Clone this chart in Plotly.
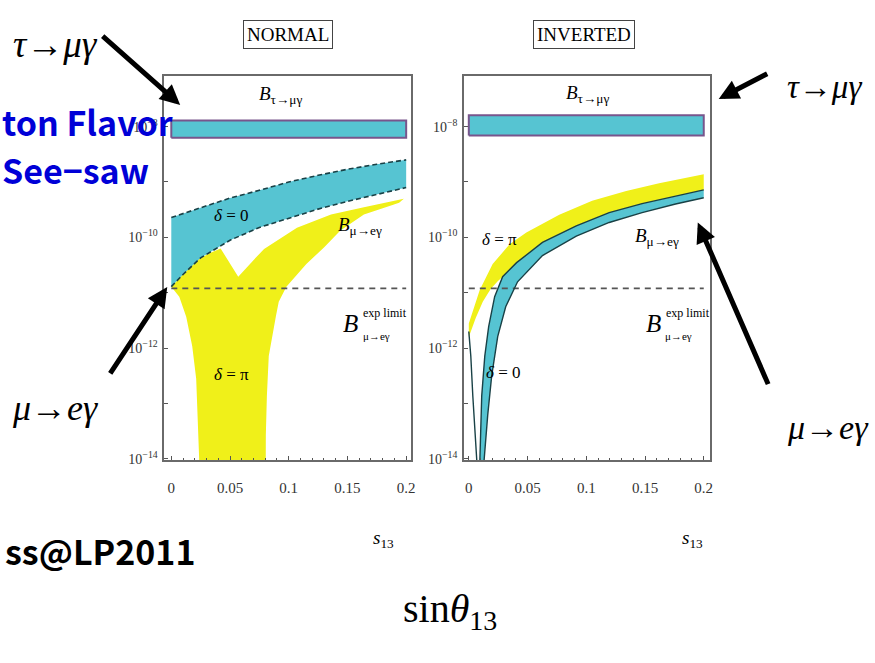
import plotly.graph_objects as go

# ---------------- data ----------------
# NORMAL hierarchy
blueN_s = [0, 0.01, 0.025, 0.05, 0.075, 0.1, 0.125, 0.15, 0.175, 0.2]
blueN_hi = [2.29e-10, 2.69e-10, 3.39e-10, 5.13e-10, 7.08e-10, 1.0e-9, 1.32e-9, 1.70e-9, 2.09e-9, 2.51e-9]
blueN_lo = [1.29e-11, 2.14e-11, 4.27e-11, 8.9e-11, 1.51e-10, 2.24e-10, 3.24e-10, 4.47e-10, 6.03e-10, 7.94e-10]

yelN_s = [0, 0.011, 0.022, 0.032, 0.042, 0.057, 0.068, 0.079, 0.107, 0.136, 0.164, 0.192, 0.198,
          0.194, 0.189, 0.164, 0.144, 0.130, 0.115, 0.098, 0.0915, 0.089, 0.0856, 0.083, 0.0814,
          0.0805, 0.0803, 0.0237, 0.0237, 0.022, 0.0212, 0.0178, 0.0127, 0.0068, 0]
yelN_B = [1.29e-11, 2.3e-11, 3.9e-11, 5.1e-11, 6.3e-11, 1.95e-11, 3.5e-11, 6.2e-11, 1.5e-10, 2.6e-10,
          3.5e-10, 4.6e-10, 5.0e-10,
          4.2e-10, 3.9e-10, 2.6e-10, 1.33e-10, 6.6e-11, 3.3e-11, 1.29e-11, 6.9e-12, 3.7e-12, 1.6e-12,
          7.2e-13, 1.38e-13, 2.7e-14, 1e-15, 1e-15, 1.05e-14, 6.9e-14, 2.8e-13, 1.1e-12, 3.7e-12,
          8.5e-12, 1.29e-11]

tauN = [6.3e-9, 1.29e-8]

# INVERTED hierarchy
yelI_up_s = [0, 0.0093, 0.0203, 0.0347, 0.049, 0.077, 0.105, 0.134, 0.162, 0.2]
yelI_up_B = [2.8e-12, 1.12e-11, 3.3e-11, 7.5e-11, 1.23e-10, 2.57e-10, 4.57e-10, 6.9e-10, 9.5e-10, 1.38e-9]
yelI_lo_s = [0, 0.0059, 0.0119, 0.0186, 0.0246, 0.0288, 0.0407, 0.0627, 0.0915, 0.1195, 0.1475, 0.176, 0.2]
yelI_lo_B = [1.6e-12, 3.5e-12, 6.9e-12, 1.17e-11, 1.62e-11, 1.95e-11, 3.5e-11, 8.1e-11, 1.62e-10,
             2.8e-10, 4.07e-10, 5.6e-10, 7.2e-10]

blueI_up_s = [0.0093, 0.011, 0.0136, 0.0169, 0.022, 0.0288, 0.0407, 0.0627, 0.0915, 0.1195, 0.1475, 0.176, 0.2]
blueI_up_B = [7.8e-15, 1.38e-13, 7.2e-13, 2.45e-12, 8.5e-12, 1.95e-11, 3.5e-11, 8.1e-11, 1.62e-10,
              2.8e-10, 4.07e-10, 5.6e-10, 7.2e-10]
blueI_lo_s = [0.0127, 0.0161, 0.0195, 0.0246, 0.0314, 0.0415, 0.0627, 0.0915, 0.1195, 0.1475, 0.176, 0.2]
blueI_lo_B = [7.8e-15, 6.2e-14, 3.2e-13, 1.62e-12, 5.6e-12, 1.58e-11, 4.7e-11, 1.05e-10, 1.86e-10,
              2.8e-10, 4.0e-10, 5.2e-10]

branchI_s = [0, 0.0017, 0.0034, 0.0051, 0.0068, 0.0076]
branchI_B = [2.0e-12, 7.2e-13, 1.38e-13, 4.1e-14, 9.5e-15, 5e-15]

tauI = [6.9e-9, 1.6e-8]

exp_limit = 1.2e-11
s_range = [0, 0.2]

xtick_vals = [0, 0.05, 0.1, 0.15, 0.2]
xtick_text = ["0", "0.05", "0.1", "0.15", "0.2"]
ytick_vals = [1e-14, 1e-13, 1e-12, 1e-11, 1e-10, 1e-9, 1e-8]
ytick_text = ["10<sup>−14</sup>", "", "10<sup>−12</sup>", "", "10<sup>−10</sup>", "", "10<sup>−8</sup>"]

# ---------------- styles ----------------
W, H = 875, 663
CYAN = "rgb(86,196,210)"
YELLOW = "rgb(240,240,25)"
PURPLE = "rgb(120,85,140)"
EDGE = "rgb(25,65,70)"
SERIF = "Liberation Serif"
GOTHIC = "Noto Sans CJK JP"


def P(px, py):
    return px / W, 1 - py / H


fig = go.Figure()


def add_panel(ax, ay, yel_s, yel_B, blue_s, blue_B, tau):
    fig.add_trace(go.Scatter(x=yel_s, y=yel_B, fill="toself", fillcolor=YELLOW, mode="lines",
                             line=dict(width=0, color=YELLOW), xaxis=ax, yaxis=ay, hoverinfo="skip"))
    fig.add_trace(go.Scatter(x=blue_s, y=blue_B, fill="toself", fillcolor=CYAN, mode="lines",
                             line=dict(width=0, color=CYAN), xaxis=ax, yaxis=ay, hoverinfo="skip"))
    fig.add_trace(go.Scatter(x=[s_range[0], s_range[1], s_range[1], s_range[0], s_range[0]],
                             y=[tau[0], tau[0], tau[1], tau[1], tau[0]], fill="toself",
                             fillcolor=CYAN, mode="lines", line=dict(width=2, color=PURPLE),
                             xaxis=ax, yaxis=ay, hoverinfo="skip"))
    fig.add_trace(go.Scatter(x=s_range, y=[exp_limit, exp_limit], mode="lines",
                             line=dict(width=1.6, color="rgb(85,85,85)", dash="6px,5px"),
                             xaxis=ax, yaxis=ay, hoverinfo="skip"))


# NORMAL
add_panel("x", "y", yelN_s, yelN_B, blueN_s + blueN_s[::-1] + [blueN_s[0]],
          blueN_hi + blueN_lo[::-1] + [blueN_hi[0]], tauN)
for arr in (blueN_hi, blueN_lo):
    fig.add_trace(go.Scatter(x=blueN_s, y=arr, mode="lines",
                             line=dict(width=1.6, color=EDGE, dash="5px,3px"),
                             xaxis="x", yaxis="y", hoverinfo="skip"))

# INVERTED
add_panel("x2", "y2", yelI_up_s + yelI_lo_s[::-1], yelI_up_B + yelI_lo_B[::-1],
          blueI_up_s + blueI_lo_s[::-1], blueI_up_B + blueI_lo_B[::-1], tauI)
for xs, ys in ((blueI_up_s, blueI_up_B), (blueI_lo_s, blueI_lo_B), (branchI_s, branchI_B)):
    fig.add_trace(go.Scatter(x=xs, y=ys, mode="lines", line=dict(width=1.4, color=EDGE),
                             xaxis="x2", yaxis="y2", hoverinfo="skip"))

ax_common = dict(showline=True, mirror=True, linecolor="#6a6a6a", linewidth=1.5, showgrid=False,
                 zeroline=False, ticks="inside", tickcolor="#555", ticklen=4)
xaxis_cfg = dict(ax_common, range=[-0.006, 0.2042], tickvals=xtick_vals, ticktext=xtick_text,
                 ticklabelstandoff=13, tickfont=dict(family=SERIF, size=15, color="#333"),
                 minor=dict(ticks="inside", ticklen=2, dtick=0.01, tick0=0, tickcolor="#555"))
yaxis_cfg = dict(ax_common, type="log", range=[-14.02, -7.09], tickvals=ytick_vals,
                 ticktext=ytick_text, ticklabelstandoff=2,
                 tickfont=dict(family=SERIF, size=14, color="#333"))

fig.update_layout(
    width=W, height=H, margin=dict(l=0, r=0, t=0, b=0),
    paper_bgcolor="white", plot_bgcolor="white", showlegend=False,
    xaxis=dict(xaxis_cfg, domain=[165 / W, 413 / W], anchor="y"),
    yaxis=dict(yaxis_cfg, domain=[1 - 465 / H, 1 - 77 / H], anchor="x"),
    xaxis2=dict(xaxis_cfg, domain=[466 / W, 713 / W], anchor="y2", range=[-0.0042, 0.2051]),
    yaxis2=dict(yaxis_cfg, domain=[1 - 465 / H, 1 - 77 / H], anchor="x2"),
)

ann = []


def text(px, py, t, size, family=SERIF, color="black", xanchor="center", yanchor="middle", **kw):
    x, y = P(px, py)
    ann.append(dict(x=x, y=y, xref="paper", yref="paper", text=t, showarrow=False,
                    xanchor=xanchor, yanchor=yanchor, font=dict(size=size, family=family, color=color), **kw))


def arrow(hx, hy, tx, ty):
    x, y = P(hx, hy)
    ann.append(dict(x=x, y=y, xref="paper", yref="paper", text="", showarrow=True,
                    ax=tx - hx, ay=ty - hy, arrowhead=2, arrowsize=0.8, arrowwidth=5,
                    arrowcolor="black"))


# slide texts
text(56, 45, "<i>τ</i>→<i>μγ</i>", 37)
text(55, 412, "<i>μ</i>→<i>eγ</i>", 36)
text(789, 88, "<i>τ</i>→<i>μγ</i>", 33, xanchor="left")
text(789, 432, "<i>μ</i>→<i>eγ</i>", 34, xanchor="left")
text(452, 618, "sin<i>θ</i><sub>13</sub>", 40)
text(0, 123, "<b>ton Flavor</b>", 34, family=GOTHIC, color="rgb(0,0,215)", xanchor="left")
text(0, 171, "<b>See−saw</b>", 34, family=GOTHIC, color="rgb(0,0,215)", xanchor="left")
text(3, 556, "<b>ss@LP2011</b>", 34, family=GOTHIC, xanchor="left")

arrow(181, 106, 102, 36)
arrow(168, 290, 110, 378)
arrow(722, 100, 772, 74)
arrow(701, 225, 772, 388)

# panel titles
text(289, 35, "NORMAL", 19, bordercolor="#444", borderwidth=1, borderpad=3)
text(587, 35, "INVERTED", 19, bordercolor="#444", borderwidth=1, borderpad=3)
text(385, 545, "<i>s</i><sub>13</sub>", 19)
text(696, 545, "<i>s</i><sub>13</sub>", 19)

# in-plot labels NORMAL
text(282, 96, "<i>B</i><sub>τ→μγ</sub>", 19)
text(233, 218, "<i>δ</i> = 0", 17)
text(362, 228, "<i>B</i><sub>μ→eγ</sub>", 19)
text(233, 378, "<i>δ</i> = π", 17)
text(352, 327, "<i>B</i>", 25)
text(387, 316, "exp limit", 12)
text(378, 340, "μ→eγ", 11)

# in-plot labels INVERTED
text(590, 95, "<i>B</i><sub>τ→μγ</sub>", 19)
text(502, 242, "<i>δ</i> = π", 17)
text(660, 240, "<i>B</i><sub>μ→eγ</sub>", 19)
text(506, 376, "<i>δ</i> = 0", 17)
text(657, 327, "<i>B</i>", 25)
text(691, 316, "exp limit", 12)
text(682, 340, "μ→eγ", 11)

fig.update_layout(annotations=ann)
fig.write_html("out.html")
